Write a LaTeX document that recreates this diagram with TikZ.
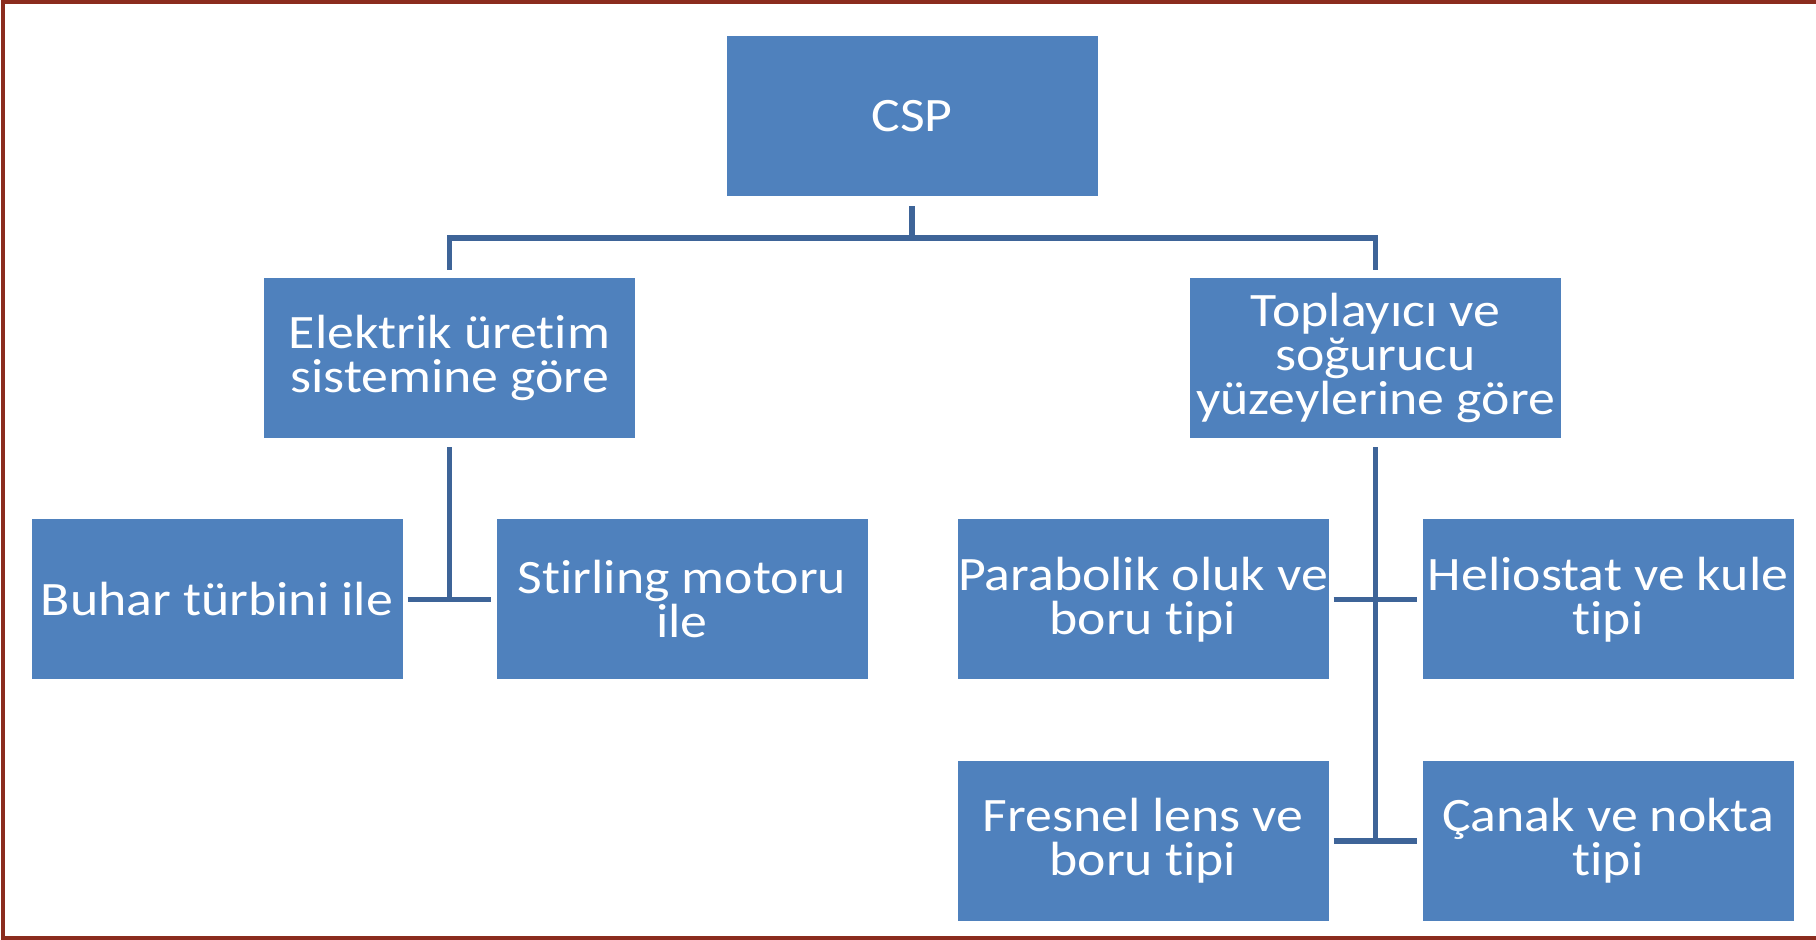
\documentclass[tikz,border=0pt]{standalone}
\usepackage{fontspec}
\setmainfont{Carlito}[Ligatures=CommonOff, FakeStretch=1.12]
\usetikzlibrary{positioning}

\definecolor{catblue}{HTML}{4F81BD}
\definecolor{linkblue}{HTML}{3E6498}
\definecolor{framered}{HTML}{8B2C1E}
\newcommand{\catfont}{\fontsize{48}{44}\selectfont}

\tikzstyle{cat} = [fill=catblue, text=white, align=center,
    minimum width=371pt, minimum height=160pt, inner sep=0pt, font=\catfont]
\tikzstyle{link} = [draw=linkblue, line width=5.5pt]
\def\halfgap{232.5}
\def\rowdist{241.5}

\begin{document}
\begin{tikzpicture}[x=1pt, y=1pt]
    \useasboundingbox (0,0) rectangle (1816,940);
    \draw[framered, line width=4pt] (1816,938) -- (3,938) -- (3,2) -- (1816,2);

    \node (csp) [cat] at (912,824) {CSP};
    \path (csp)+(-462.5,-242) node (elek) [cat] {Elektrik üretim\\sistemine göre};
    \path (csp)+(463.5,-242) node (topl) [cat] {Toplayıcı ve\\soğurucu\\yüzeylerine göre};

    \path (elek)+(-\halfgap,-\rowdist) node (buhar) [cat] {Buhar türbini ile};
    \path (elek)+(\halfgap,-\rowdist) node (stirling) [cat] {Stirling motoru\\ile};

    \path (topl)+(-\halfgap,-\rowdist) node (parab) [cat] {Parabolik oluk ve\\boru tipi};
    \path (topl)+(\halfgap,-\rowdist) node (helio) [cat] {Heliostat ve kule\\tipi};
    \path (parab)+(0,-\rowdist) node (fresnel) [cat] {Fresnel lens ve\\boru tipi};
    \path (helio)+(0,-\rowdist) node (canak) [cat] {Çanak ve nokta\\tipi};

    % tree lines, kept clear of the boxes
    \coordinate (split) at ([yshift=-42pt]csp.south);
    \path [link] ([yshift=-10pt]csp.south) -- (split);
    \path [link] ([yshift=8pt]elek.north) |- (split) -| ([yshift=8pt]topl.north);

    \path [link] ([yshift=-9pt]elek.south) -- (elek.south |- buhar.east);
    \path [link] ([xshift=5pt]buhar.east) -- ([xshift=-5pt]stirling.west);

    \path [link] ([yshift=-9pt]topl.south) -- (topl.south |- fresnel.east);
    \path [link] ([xshift=5pt]parab.east) -- ([xshift=-5pt]helio.west);
    \path [link] ([xshift=5pt]fresnel.east) -- ([xshift=-5pt]canak.west);
\end{tikzpicture}
\end{document}
